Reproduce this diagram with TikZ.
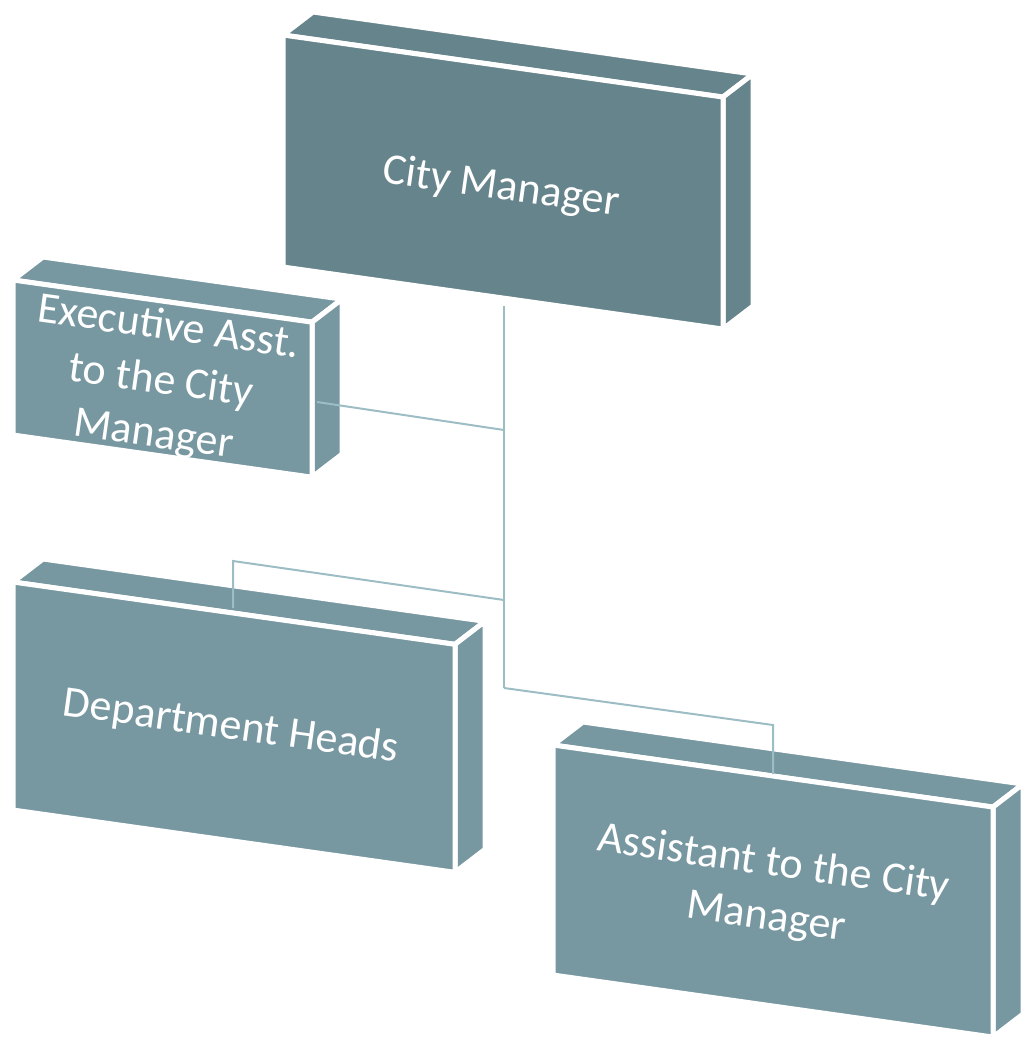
\documentclass[tikz,border=0pt]{standalone}
\usepackage{fontspec}
\setmainfont{Carlito}
\usetikzlibrary{calc}

\definecolor{boxdark}{HTML}{66848B}
\definecolor{boxlight}{HTML}{7797A1}
\definecolor{linkcol}{HTML}{9DBDC5}

\tikzset{
  face/.style={draw=white, line width=2.5pt, line join=round},
  boxtext/.style={text=white, font=\fontsize{22}{27}\selectfont, align=center, rotate=-8},
  link/.style={draw=linkcol, line width=1pt}
}

% box: name, x, y, width, height, colour (pixel units)
\newcommand{\orgbox}[6]{%
  \coordinate (#1-a) at (#2,#3);
  \coordinate (#1-b) at ({#2+#4},{#3+0.141*#4});
  \coordinate (#1-c) at ({#2+#4},{#3+0.141*#4+#5});
  \coordinate (#1-d) at (#2,{#3+#5});
  \path[face, fill=#6] (#1-a) -- (#1-b) -- ($(#1-b)+(30,-23)$) -- ($(#1-a)+(30,-23)$) -- cycle;
  \path[face, fill=#6] (#1-b) -- (#1-c) -- ($(#1-c)+(30,-23)$) -- ($(#1-b)+(30,-23)$) -- cycle;
  \path[face, fill=#6] (#1-a) -- (#1-b) -- (#1-c) -- (#1-d) -- cycle;
}

\begin{document}
\begin{tikzpicture}[x=0.5pt, y=-0.5pt]
  \useasboundingbox (0,0) rectangle (1030,1046);

  \orgbox{cm}{283}{35}{440}{232}{boxdark}
  \orgbox{ex}{13}{280}{299}{155}{boxlight}
  \orgbox{dh}{13}{582}{442}{228}{boxlight}
  \orgbox{as}{553}{745}{440}{230}{boxlight}

  \node[boxtext] (cmtext) at (501,188) {City Manager};
  \node[boxtext] (extext) at (161,382) {Executive Asst.\\to the City\\Manager};
  \node[boxtext] (dhtext) at (231,727) {Department Heads};
  \node[boxtext] (astext) at (770,891) {Assistant to the City\\Manager};

  % connection points
  \coordinate (cm-out) at (504,306);
  \coordinate (ex-in) at (317,402);
  \coordinate (dh-in) at (233,608);
  \coordinate (as-in) at (773,774);
  \coordinate (hub1) at (504,430);
  \coordinate (hub2) at (504,600);
  \coordinate (hub3) at (504,688);
  \coordinate (dh-up) at (233,561);
  \coordinate (as-up) at (773,725);

  \draw[link] (cm-out) -- (hub3);
  \draw[link] (ex-in) -- (hub1);
  \draw[link] (hub2) -- (dh-up) -- (dh-in);
  \draw[link] (hub3) -- (as-up) -- (as-in);
\end{tikzpicture}
\end{document}
